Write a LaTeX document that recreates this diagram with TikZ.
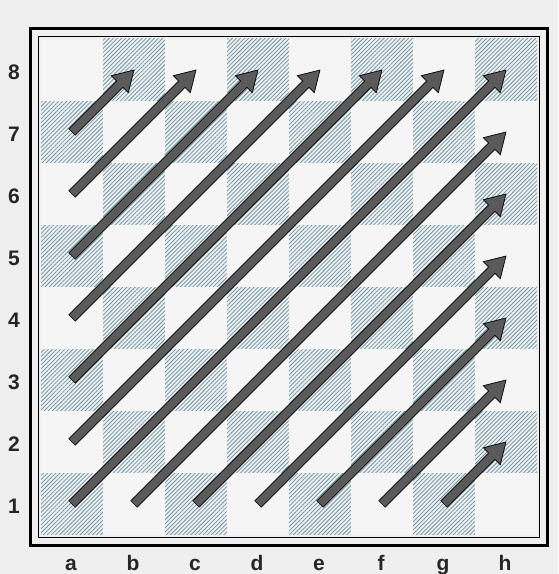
\documentclass[tikz,border=0pt]{standalone}
\usepackage{fontspec}
\setmainfont{Liberation Sans}
\usetikzlibrary{patterns.meta,calc}
\definecolor{paper}{HTML}{EFEFEF}
\definecolor{lightsq}{HTML}{F5F5F5}
\definecolor{hatch}{HTML}{6A93A4}
\definecolor{arrowfill}{HTML}{5A5A5A}
\tikzset{
  darksq/.style={pattern={Lines[angle=45,distance=2.9pt,line width=0.75pt]},pattern color=hatch},
  litesq/.style={fill=lightsq},
  arrowsty/.style={fill=arrowfill,draw=black,line width=0.7pt,line join=miter},
  outerframe/.style={draw=black,line width=3pt},
  innerframe/.style={draw=black,line width=1.6pt},
  lbl/.style={font=\fontsize{21}{25}\selectfont\bfseries,text=black!85,anchor=base,inner sep=0pt}
}
\newcommand\diagarrow[2]{%
  \draw[arrowsty] ([shift={(-3.18,3.18)}]#1) -- ([shift={(-17.32,-10.96)}]#2)
    -- ([shift={(-22.6,-5.7)}]#2) -- (#2) -- ([shift={(-5.7,-22.6)}]#2)
    -- ([shift={(-10.96,-17.32)}]#2) -- ([shift={(3.18,-3.18)}]#1) -- cycle;}
\begin{document}
\begin{tikzpicture}[x=1pt,y=1pt]
\useasboundingbox (0,0) rectangle (558,574);
\fill[paper] (0,0) rectangle (558,574);
% squares
\foreach \f [count=\i from 0] in {a,b,c,d,e,f,g,h}{
  \foreach \r in {1,...,8}{
    \pgfmathtruncatemacro\sqpar{mod(\i+\r,2)}
    \ifnum\sqpar=1
      \fill[darksq] (41+62*\i,39+62*\r-62) rectangle ++(62,62);
    \else
      \fill[litesq] (41+62*\i,39+62*\r-62) rectangle ++(62,62);
    \fi
    \coordinate (\f\r) at (41+62*\i+31,39+62*\r-31);
  }
}
% frames
\draw[innerframe] (38.5,36.5) rectangle (539.5,537.5);
\draw[outerframe] (30.5,28.5) rectangle (547.5,545.5);
% labels
\foreach \f [count=\i from 0] in {a,b,c,d,e,f,g,h}{
  \node[lbl] (file\f) at (71+62*\i,4) {\f};
}
\foreach \r in {1,...,8}{
  \node[lbl] (rank\r) at (14,8+62*\r-9.5) {\r};
}
% arrows
\diagarrow{a7}{b8}
\diagarrow{a6}{c8}
\diagarrow{a5}{d8}
\diagarrow{a4}{e8}
\diagarrow{a3}{f8}
\diagarrow{a2}{g8}
\diagarrow{a1}{h8}
\diagarrow{b1}{h7}
\diagarrow{c1}{h6}
\diagarrow{d1}{h5}
\diagarrow{e1}{h4}
\diagarrow{f1}{h3}
\diagarrow{g1}{h2}
\end{tikzpicture}
\end{document}
